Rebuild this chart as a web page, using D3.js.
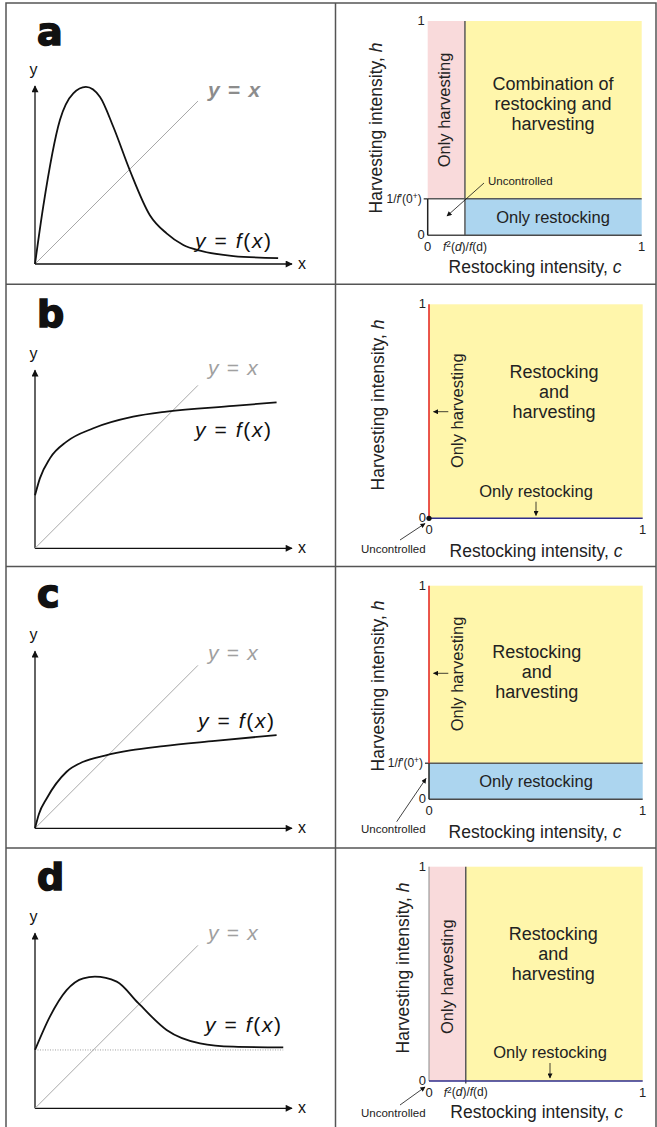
<!DOCTYPE html>
<html>
<head>
<meta charset="utf-8">
<script src="https://cdn.jsdelivr.net/npm/d3@7"></script>
<style>
    body { margin: 0; background: #fff; }
    svg { display: block; font-family: "Liberation Sans", Arial, sans-serif; }
</style>
</head>
<body>
<svg id="chart" width="657" height="1127"></svg>
<script>
// panel letters
const panels = ['a', 'b', 'c', 'd'];

// sketched f(x) for each panel (x axis is 10 units long)
const fA_x = [0, 0.32, 0.97, 1.49, 1.98, 2.53, 3.05, 3.7, 4.47, 5.12, 5.77, 6.42, 7.72, 9.46];
const fA_y = [0, 2.23, 5.6, 6.64, 6.89, 6.5, 5.33, 3.62, 1.9, 1.19, 0.74, 0.52, 0.31, 0.23];
const fB_x = [0, 0.19, 0.58, 1.23, 2.27, 3.82, 5.12, 7.72, 9.4];
const fB_y = [2.06, 2.72, 3.5, 4.15, 4.67, 5.12, 5.32, 5.54, 5.68];
const fC_x = [0, 0.15, 0.46, 1.23, 1.88, 2.72, 3.7, 5.0, 7.0, 9.4];
const fC_y = [0, 0.55, 1.17, 2.2, 2.59, 2.83, 3.03, 3.2, 3.4, 3.63];
const fD_x = [0, 0.58, 1.23, 1.88, 2.33, 3.18, 4.02, 5.12, 6.42, 7.72, 9.66];
const fD_y = [2.27, 3.57, 4.6, 5.06, 5.12, 4.93, 4.09, 3.05, 2.53, 2.4, 2.37];
const curvesX = [fA_x, fB_x, fC_x, fD_x];
const curvesY = [fA_y, fB_y, fC_y, fD_y];

// dotted level f(0) (only d has one)
const fZero = [null, null, null, 2.27];
// y = x diagonal length
const diagEnd = 6.34;

// region thresholds in the (c, h) square
const cSplit = [0.174, 0, 0, 0.172];   // f^2(d)/f(d)
const hSplit = [0.17, 0, 0.169, 0];    // 1/f'(0+)

// texts
const bigLabels = [
    ['Combination of', 'restocking and', 'harvesting'],
    ['Restocking', 'and', 'harvesting'],
    ['Restocking', 'and', 'harvesting'],
    ['Restocking', 'and', 'harvesting']
];
const harvLabel = 'Only harvesting';
const restLabel = 'Only restocking';
const uncLabel = 'Uncontrolled';
const xTitle = 'Restocking intensity, ';
const yTitle = 'Harvesting intensity, ';
const tickLabels = ['0', '1'];

const colors = {
    pink: '#f9dadb',
    yellow: '#fff6ab',
    blue: '#acd5ef',
    red: '#e52d27',
    navy: '#2e2d8c',
    frame: '#555',
    diag: '#a8a8a8'
};

// layout of the left sketches
const leftLayout = [
    { oy: 264, yLen: 178, letterY: 45, yx: [208, 97], fl: [195, 248], bold: true },
    { oy: 548.3, yLen: 178, letterY: 326.7, yx: [208, 375], fl: [195, 436.7] },
    { oy: 828.3, yLen: 177, letterY: 607, yx: [208, 660], fl: [198, 728] },
    { oy: 1108.3, yLen: 175, letterY: 890, yx: [208, 940], fl: [205, 1031.7] }
];

// layout of the right region maps
const rightLayout = [
    { l: 427.7, r: 641.7, t: 21, b: 235.3, yLab: [376.7, 128], xLab: [535, 273.3], big: [553, 90],
      harv: [445, 110], rest: [553, 223.3],
      unc: [488, 185, 'start'], uncArrow: [[484, 183], [447, 216]] },
    { l: 429, r: 642.7, t: 304.3, b: 518.3, yLab: [378.3, 405], xLab: [536, 556.7], big: [554, 378.3],
      harv: [458.3, 410.7], harvArrow: [[448.3, 411.7], [433.5, 411.7]],
      rest: [536, 496.7], restArrow: [[536, 501.7], [536, 515.5]],
      unc: [393.3, 553.3, 'middle'], uncArrow: [[400, 540], [425, 523.5]] },
    { l: 429, r: 642.7, t: 585.7, b: 799.3, yLab: [378.3, 686], xLab: [535, 838.3], big: [536.7, 658.3],
      harv: [458.3, 674], harvArrow: [[448.3, 673.3], [433.5, 673.3]],
      rest: [536, 786.7],
      unc: [393.3, 833.3, 'middle'], uncArrow: [[396.7, 821.7], [426, 778.5]] },
    { l: 429, r: 642.7, t: 866.7, b: 1081, yLab: [404, 968], xLab: [536.7, 1118.3], big: [553.3, 940],
      harv: [448.3, 976.7], rest: [550, 1058.3], restArrow: [[550, 1063], [550, 1078]],
      unc: [393.3, 1116.7, 'middle'], uncArrow: [[400, 1105], [425, 1087]] }
];

const panelTops = [3, 284.3, 566.5, 848];

var svg = d3.select('#chart');

// arrow markers
var defs = svg.append('defs');
function marker(id, w, h) {
    defs.append('marker')
        .attr('id', id)
        .attr('viewBox', '0 0 10 10')
        .attr('refX', 9).attr('refY', 5)
        .attr('markerUnits', 'userSpaceOnUse')
        .attr('markerWidth', w).attr('markerHeight', h)
        .attr('orient', 'auto')
        .append('path')
        .attr('d', 'M0,0 L10,5 L0,10 z')
        .attr('fill', '#111');
}
marker('arrowBig', 9, 7);
marker('arrowSmall', 6, 5);

// frame
svg.append('rect')
    .attr('x', 6).attr('y', 3).attr('width', 650).attr('height', 1140)
    .attr('fill', 'none').attr('stroke', colors.frame).attr('stroke-width', 1.5);
svg.append('line')
    .attr('x1', 335.5).attr('x2', 335.5).attr('y1', 3).attr('y2', 1127)
    .attr('stroke', colors.frame).attr('stroke-width', 1.5);
panelTops.slice(1).forEach(y => {
    svg.append('line')
        .attr('x1', 6).attr('x2', 656).attr('y1', y).attr('y2', y)
        .attr('stroke', colors.frame).attr('stroke-width', 1.5);
});

// helper for mixed italic / superscript text
function richText(sel, parts) {
    parts.forEach(p => {
        var t = sel.append('tspan').text(p[0]);
        if (p[1]) t.attr('font-style', 'italic');
        if (p[2] === 'sup') t.attr('font-size', '0.7em').attr('dy', '-0.45em');
        if (p[2] === 'down') t.attr('dy', '0.3em');
    });
    return sel;
}

function drawSketch(i) {
    var L = leftLayout[i];
    var ox = 35, unitLen = 257;
    var x = d3.scaleLinear().domain([0, 10]).range([ox, ox + unitLen]);
    var y = d3.scaleLinear().domain([0, 10]).range([L.oy, L.oy - unitLen]);
    var g = svg.append('g');

    // panel letter
    g.append('text')
        .attr('x', 37).attr('y', L.letterY)
        .attr('font-family', '"DejaVu Sans", sans-serif')
        .attr('font-weight', 'bold').attr('font-size', 38)
        .attr('fill', '#111').attr('stroke', '#111').attr('stroke-width', 1.6)
        .text(panels[i]);

    // axes with arrows
    g.append('line')
        .attr('x1', x(0)).attr('y1', y(0)).attr('x2', x(10)).attr('y2', y(0))
        .attr('stroke', '#111').attr('stroke-width', 1.3)
        .attr('marker-end', 'url(#arrowBig)');
    g.append('line')
        .attr('x1', x(0)).attr('y1', y(0)).attr('x2', x(0)).attr('y2', L.oy - L.yLen)
        .attr('stroke', '#111').attr('stroke-width', 1.3)
        .attr('marker-end', 'url(#arrowBig)');
    g.append('text').attr('x', x(10) + 6).attr('y', L.oy + 5)
        .attr('font-size', 16).attr('fill', '#111').text('x');
    g.append('text').attr('x', x(0) - 1.5).attr('y', L.oy - L.yLen - 11)
        .attr('text-anchor', 'middle')
        .attr('font-size', 16).attr('fill', '#111').text('y');

    // y = x
    g.append('line')
        .attr('x1', x(0)).attr('y1', y(0)).attr('x2', x(diagEnd)).attr('y2', y(diagEnd))
        .attr('stroke', colors.diag).attr('stroke-width', 1);

    // dotted f(0) level
    if (fZero[i] !== null) {
        g.append('line')
            .attr('x1', x(0)).attr('x2', x(9.66))
            .attr('y1', y(fZero[i])).attr('y2', y(fZero[i]))
            .attr('stroke', '#888').attr('stroke-width', 0.8)
            .attr('stroke-dasharray', '1,1.5');
    }

    // f(x)
    var pts = curvesX[i].map((v, k) => [v, curvesY[i][k]]);
    var line = d3.line()
        .x(d => x(d[0])).y(d => y(d[1]))
        .curve(d3.curveMonotoneX);
    g.append('path')
        .attr('d', line(pts))
        .attr('fill', 'none').attr('stroke', '#111').attr('stroke-width', 1.8);

    // labels
    var yx = g.append('text')
        .attr('x', L.yx[0]).attr('y', L.yx[1])
        .attr('font-size', 21).attr('letter-spacing', 1.2)
        .attr('fill', L.bold ? '#8c8c8c' : '#a0a0a0')
        .attr('font-weight', L.bold ? 'bold' : 'normal');
    richText(yx, [['y', true], [' = '], ['x', true]]);

    var fl = g.append('text')
        .attr('x', L.fl[0]).attr('y', L.fl[1])
        .attr('font-size', 21).attr('letter-spacing', 1.6)
        .attr('fill', '#111');
    richText(fl, [['y', true], [' = '], ['f', true], ['('], ['x', true], [')']]);
}

function arrow(g, a) {
    g.append('line')
        .attr('x1', a[0][0]).attr('y1', a[0][1]).attr('x2', a[1][0]).attr('y2', a[1][1])
        .attr('stroke', '#111').attr('stroke-width', 0.8)
        .attr('marker-end', 'url(#arrowSmall)');
}

function drawMap(i) {
    var R = rightLayout[i];
    var c = d3.scaleLinear().domain([0, 1]).range([R.l, R.r]);
    var h = d3.scaleLinear().domain([0, 1]).range([R.b, R.t]);
    var cs = cSplit[i], hs = hSplit[i];
    var g = svg.append('g');

    function region(c0, c1, h0, h1, fill) {
        g.append('rect')
            .attr('x', c(c0)).attr('y', h(h1))
            .attr('width', c(c1) - c(c0)).attr('height', h(h0) - h(h1))
            .attr('fill', fill);
    }
    function seg(c0, h0, c1, h1, stroke, w) {
        g.append('line')
            .attr('x1', c(c0)).attr('y1', h(h0)).attr('x2', c(c1)).attr('y2', h(h1))
            .attr('stroke', stroke).attr('stroke-width', w);
    }

    // regions
    if (cs > 0) region(0, cs, hs, 1, colors.pink);
    region(cs, 1, hs, 1, colors.yellow);
    if (hs > 0) region(cs, 1, 0, hs, colors.blue);

    // boundaries
    if (cs > 0) seg(cs, hs > 0 ? 0 : -0.012, cs, 1, '#5a5a5a', 1.5);
    if (hs > 0) {
        seg(0, hs, 1, hs, '#5a5a5a', 1.5);
        seg(0, 0, 1, 0, '#4a4a4a', 1.5);
        seg(0, 0, 0, hs, '#222', 1.5);
        g.append('line')
            .attr('x1', c(0) - 4).attr('x2', c(0)).attr('y1', h(hs)).attr('y2', h(hs))
            .attr('stroke', '#222').attr('stroke-width', 1.2);
    } else {
        if (cs > 0) seg(0, 0, 0, 1, '#8a8a8a', 1);
        seg(0, 0, 1, 0, colors.navy, 1.5);
    }
    if (cs === 0) seg(0, hs, 0, 1, colors.red, 1.6);
    if (cs === 0 && hs === 0) {
        g.append('circle').attr('cx', c(0)).attr('cy', h(0)).attr('r', 2.6).attr('fill', '#111');
    }

    // tick labels
    g.append('text').attr('x', c(0) - 3).attr('y', h(1) + 4)
        .attr('text-anchor', 'end').attr('font-size', 13).attr('fill', '#222').text(tickLabels[1]);
    g.append('text').attr('x', c(0) - 3).attr('y', h(0) + 4)
        .attr('text-anchor', 'end').attr('font-size', 13).attr('fill', '#222').text(tickLabels[0]);
    g.append('text').attr('x', c(0)).attr('y', h(0) + 16)
        .attr('text-anchor', 'middle').attr('font-size', 13).attr('fill', '#222').text(tickLabels[0]);
    g.append('text').attr('x', c(1)).attr('y', h(0) + 16)
        .attr('text-anchor', 'middle').attr('font-size', 13).attr('fill', '#222').text(tickLabels[1]);

    if (hs > 0) {
        var ht = g.append('text').attr('x', c(0) - 6).attr('y', h(hs) + 4)
            .attr('text-anchor', 'end').attr('font-size', 12).attr('fill', '#222');
        richText(ht, [['1/'], ['f', true], ['\u2032(0'], ['+', false, 'sup'], [')', false, 'down']]);
    }
    if (cs > 0) {
        var ct = g.append('text').attr('x', c(cs)).attr('y', h(0) + 15.5)
            .attr('text-anchor', 'middle').attr('font-size', 12).attr('fill', '#222');
        richText(ct, [['f', true], ['2', false, 'sup'], ['(', false, 'down'], ['d', true], [')/'], ['f', true], ['(d)']]);
    }

    // axis titles
    var xt = g.append('text').attr('x', R.xLab[0]).attr('y', R.xLab[1])
        .attr('text-anchor', 'middle').attr('font-size', 17.5).attr('fill', '#222');
    richText(xt, [[xTitle], ['c', true]]);
    var yt = g.append('text')
        .attr('transform', 'translate(' + R.yLab[0] + ',' + R.yLab[1] + ') rotate(-90)')
        .attr('dy', '0.3em')
        .attr('text-anchor', 'middle').attr('font-size', 17.5).attr('fill', '#222');
    richText(yt, [[yTitle], ['h', true]]);

    // region labels
    var big = g.append('text').attr('text-anchor', 'middle').attr('font-size', 18).attr('fill', '#222');
    bigLabels[i].forEach((s, k) => {
        big.append('tspan').attr('x', R.big[0]).attr('y', R.big[1] + k * 20).text(s);
    });
    g.append('text')
        .attr('transform', 'translate(' + R.harv[0] + ',' + R.harv[1] + ') rotate(-90)')
        .attr('dy', '0.3em')
        .attr('text-anchor', 'middle').attr('font-size', 16.5).attr('fill', '#222')
        .text(harvLabel);
    g.append('text').attr('x', R.rest[0]).attr('y', R.rest[1])
        .attr('text-anchor', 'middle').attr('font-size', 16.5).attr('fill', '#222')
        .text(restLabel);
    g.append('text').attr('x', R.unc[0]).attr('y', R.unc[1])
        .attr('text-anchor', R.unc[2]).attr('font-size', 11.5).attr('fill', '#222')
        .text(uncLabel);

    if (R.harvArrow) arrow(g, R.harvArrow);
    if (R.restArrow) arrow(g, R.restArrow);
    arrow(g, R.uncArrow);
}

panels.forEach((p, i) => {
    drawSketch(i);
    drawMap(i);
});
</script>
</body>
</html>
